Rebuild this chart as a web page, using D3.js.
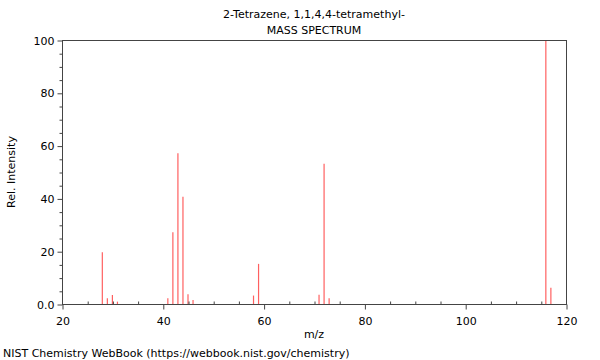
<!DOCTYPE html>
<html><head><meta charset="utf-8">
<script src="https://cdn.jsdelivr.net/npm/d3@7"></script>
<style>body{margin:0;background:#fff}svg{display:block;font-family:"DejaVu Sans",sans-serif}</style>
</head><body><svg id="c" width="600" height="360"></svg>
<script>
const mz =        [28, 29, 30, 31, 41, 42, 43, 44, 45, 46, 58, 59, 71, 72, 73, 116, 117];
const intensity = [19.6, 2.2, 3.4, 0.9, 2.2, 27.2, 57.1, 40.6, 3.7, 1.5, 3.2, 15.2, 3.5, 53.1, 2.2, 100, 6.2];
const xTicks = [20, 40, 60, 80, 100, 120];
const yTicks = [0, 20, 40, 60, 80, 100];
const titleLines = ["2-Tetrazene, 1,1,4,4-tetramethyl-", "MASS SPECTRUM"];

const svg = d3.select("#c");
const L = 62, R = 566, T = 40, B = 304;
const x = d3.scaleLinear().domain([20, 120]).range([L, R]);
const y = d3.scaleLinear().domain([0, 100]).range([B, T]);
const ax = "#000";

// bars
svg.append("g").selectAll("line").data(mz).join("line")
  .attr("x1", (d) => x(d) ).attr("x2", (d) => x(d))
  .attr("y1", y(0)).attr("y2", (d, i) => y(intensity[i]))
  .attr("stroke", "#ff6060").attr("stroke-width", 1.2);

// frame
svg.append("rect").attr("x", L + 0.5).attr("y", T + 0.5).attr("width", R - L).attr("height", B - T)
  .attr("fill", "none").attr("stroke", "#444").attr("stroke-width", 1);

// x axis
const xa = svg.append("g").attr("transform", `translate(0.5,${B + 0.5})`)
  .call(d3.axisBottom(x).tickValues(xTicks).tickSize(5).tickPadding(8).tickFormat(d3.format("d")));
const xm = svg.append("g").attr("transform", `translate(0.5,${B + 0.5})`)
  .call(d3.axisBottom(x).tickValues(d3.range(25, 120, 5).filter(v => v % 20)).tickSize(-3).tickFormat(""));
// y axis
const ya = svg.append("g").attr("transform", `translate(${L + 0.5},0.5)`)
  .call(d3.axisLeft(y).tickValues(yTicks).tickSize(5).tickPadding(3).tickFormat(d => d === 0 ? "0.0" : d));
const ym = svg.append("g").attr("transform", `translate(${L + 0.5},0.5)`)
  .call(d3.axisLeft(y).tickValues(d3.range(5, 100, 5).filter(v => v % 20)).tickSize(3).tickFormat(""));
[xa, xm, ya, ym].forEach(g => {
  g.select(".domain").remove();
  g.selectAll("line").attr("stroke", "#444");
  g.selectAll("text").attr("font-family", "DejaVu Sans").attr("font-size", 11).attr("fill", "#000");
});

// titles
svg.selectAll("text.title").data(titleLines).join("text").attr("class", "title")
  .attr("x", 314).attr("y", (d, i) => 18 + i * 16).attr("text-anchor", "middle")
  .attr("font-size", 11).text(d => d);
svg.append("text").attr("x", 314).attr("y", 338).attr("text-anchor", "middle").attr("font-size", 11).text("m/z");
svg.append("text").attr("transform", `translate(15,172) rotate(-90)`).attr("text-anchor", "middle")
  .attr("font-size", 11).text("Rel. Intensity");
svg.append("text").attr("x", 3).attr("y", 357).attr("font-size", 11).text("NIST Chemistry WebBook (https://webbook.nist.gov/chemistry)");
</script></body></html>
